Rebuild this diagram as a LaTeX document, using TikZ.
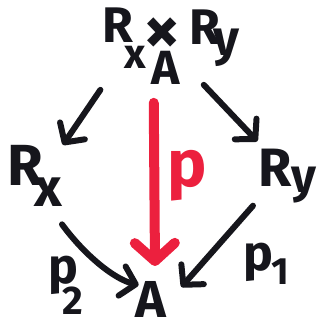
\documentclass[tikz,border=0pt]{standalone}
\usepackage{fontspec}
\setmainfont{Fira Sans}
\usetikzlibrary{arrows.meta,fit,calc}
\definecolor{penred}{RGB}{236,32,62}
\definecolor{ink}{RGB}{22,22,28}
\begin{document}
\begin{tikzpicture}[x=1pt,y=-1pt,
  glyph/.style={inner sep=0pt,outer sep=0pt,text=ink,font=\fontsize{#1}{#1}\selectfont\bfseries},
  redglyph/.style={glyph=#1,text=penred},
  arr/.style={draw=ink,line width=6pt,line cap=round,line join=round,
    -{Straight Barb[length=14pt,width=30pt,line width=6pt,round]}},
  redarr/.style={draw=penred,line width=10pt,line cap=round,line join=round,
    -{Straight Barb[length=18pt,width=40pt,line width=10pt,round]}}
]
\useasboundingbox[fill=white] (0,0) rectangle (323,325);

% top object R_x x_A R_y
\node[glyph=50] (tR1) at (118,25) {R};
\node[glyph=42] (tx)  at (135,57) {x};
\node[glyph=72] (tT)  at (162,36) {×};
\node[glyph=48] (tA)  at (166,68) {A};
\node[glyph=50] (tR2) at (205,27) {R};
\node[glyph=50] (ty)  at (226,48) {y};
\node[fit=(tR1)(tx)(tA)(tR2)(ty),inner sep=0pt] (top) {};

% left R_x
\node[glyph=58] (RxR) at (25,165) {R};
\node[glyph=54] (Rxx) at (48,192) {x};
% right R_y
\node[glyph=54] (RyR) at (275,168) {R};
\node[glyph=48] (Ryy) at (304,185) {y};
% bottom A
\node[glyph=52] (A) at (151,299) {A};

% labels
\node[redglyph=66] (P) at (187,176) {p};
\node[glyph=50] (p2) at (63,275) {p};
\node[glyph=40] (p2i) at (73,301) {2};
\node[glyph=50] (p1) at (258,262) {p};
\node[glyph=38] (p1i) at (280,272) {1};

% arrows
\draw[arr] ([shift={(-2,5)}]top.south west) -- ([shift={(20,0)}]RxR.north east);
\draw[arr] ([shift={(33,0)}]top.south) -- ([shift={(-1,-8)}]RyR.north west);
\draw[redarr] ([shift={(-17,18)}]top.south) -- ([shift={(4,-15)}]A.north);
\draw[arr] ([shift={(14,18)}]Rxx.south) .. controls +(22,30) and +(-25,-6) .. ([shift={(3,-14)}]A.west);
\draw[arr] ([shift={(-22,19)}]RyR.south) -- ([shift={(15,-12)}]A.east);
\end{tikzpicture}
\end{document}
